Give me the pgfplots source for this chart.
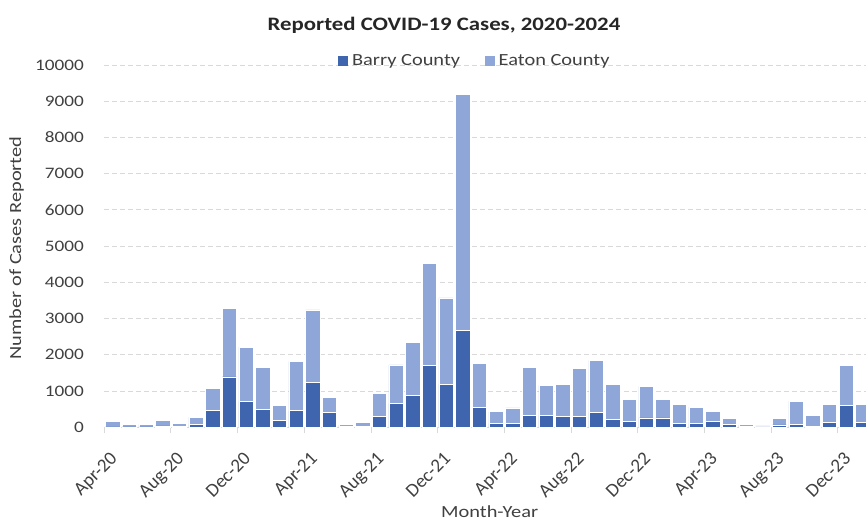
\documentclass[border=0pt]{standalone}
\usepackage{pgfplots}
\pgfplotsset{compat=1.18}
\usepackage{pgfplotstable}
\usepackage{fontspec}
\setmainfont{Carlito}[FakeStretch=1.2]
\newfontfamily\plainfont{Carlito}

\definecolor{barry}{HTML}{3F65AF}
\definecolor{eaton}{HTML}{8FA6D8}
\definecolor{gridc}{HTML}{D9D9D9}
\definecolor{txt}{HTML}{404040}

\pgfplotstableread{
x barry eaton
0 10 150
1 10 70
2 10 70
3 40 140
4 20 90
5 80 200
6 470 610
7 1390 1900
8 715 1495
9 505 1155
10 200 407
11 458 1364
12 1231 2007
13 403 412
14 15 55
15 30 116
16 312 626
17 662 1058
18 873 1463
19 1701 2825
20 1187 2382
21 2667 6524
22 552 1214
23 110 321
24 105 433
25 331 1315
26 331 824
27 304 883
28 304 1314
29 414 1435
30 229 958
31 166 607
32 257 875
33 257 516
34 101 542
35 101 459
36 174 257
37 82 166
38 30 43
39 10 27
40 64 184
41 73 653
42 20 311
43 128 515
44 607 1094
45 130 510
}\cases

\begin{document}
\begin{tikzpicture}
\useasboundingbox (0,0) rectangle (866pt,523pt);
\begin{axis}[
  at={(104.3pt,95.7pt)}, anchor=south west,
  scale only axis, width=761.7pt, height=362.3pt,
  ybar stacked, bar width=0.86,
  xmin=-0.5, xmax=45.19, ymin=0, ymax=10000,
  axis x line*=bottom, axis y line*=left,
  y axis line style={draw=none},
  x axis line style={draw=gridc, line width=1pt, -},
  tick align=outside, major tick length=6pt,
  xtick={-0.5,3.5,...,43.5},
  xticklabels={Apr-20,Aug-20,Dec-20,Apr-21,Aug-21,Dec-21,Apr-22,Aug-22,Dec-22,Apr-23,Aug-23,Dec-23},
  xtick style={draw=gridc, line width=1pt},
  xticklabel style={xshift=5pt, yshift=-16pt, rotate=45, anchor=north east, inner sep=1pt, font=\plainfont\fontsize{19}{21}\selectfont, text=txt},
  ytick={0,1000,...,10000},
  ytick style={draw=none},
  yticklabel style={font=\fontsize{16}{19}\selectfont, text=txt, xshift=-11pt},
  /pgf/number format/1000 sep={},
  /pgf/number format/assume math mode=true,
  scaled y ticks=false,
  ymajorgrids,
  major grid style={draw=gridc, line width=1pt, dash pattern=on 5pt off 3pt},
  title={Reported COVID-19 Cases, 2020-2024},
  title style={at={(axis description cs:0.446,1.093)}, anchor=center, font=\bfseries\fontsize{19}{22}\selectfont, text=black!85},
  xlabel={Month-Year},
  xlabel style={at={(axis description cs:0.506,-0.234)}, anchor=center, font=\fontsize{17}{20}\selectfont, text=txt},
  ylabel={Number of Cases Reported},
  ylabel style={at={(axis description cs:-0.115,0.495)}, anchor=center, font=\fontsize{17}{20}\selectfont, text=txt},
  legend style={at={(axis description cs:0.488,1.012)}, anchor=center, draw=none, fill=none,
    legend columns=2, font=\fontsize{17}{20}\selectfont, text=txt,
    nodes={inner xsep=4.5pt},
    /tikz/every even column/.append style={column sep=20pt}},
]
\addplot[fill=barry, draw=white, line width=0.6pt,
  legend image code/.code={\fill[barry] (0pt,-4.5pt) rectangle (9pt,4.5pt);}]
  table[x=x,y=barry]{\cases};
\addplot[fill=eaton, draw=white, line width=0.6pt,
  legend image code/.code={\fill[eaton] (0pt,-4.5pt) rectangle (9pt,4.5pt);}]
  table[x=x,y=eaton]{\cases};
\legend{Barry County, Eaton County}
\end{axis}
\end{tikzpicture}
\end{document}
